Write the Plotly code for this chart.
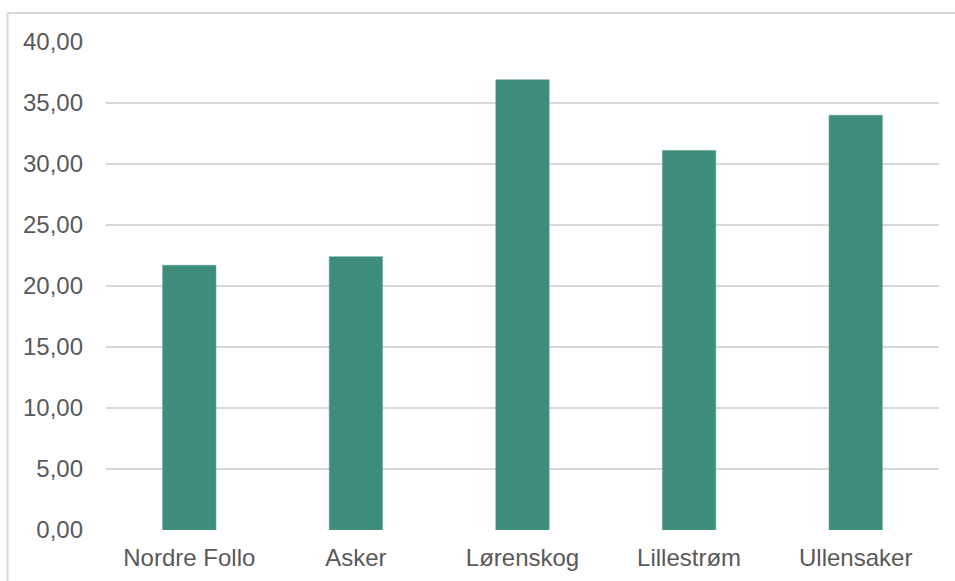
import plotly.graph_objects as go

# Municipalities and their values
kommuner = ["Nordre Follo", "Asker", "Lørenskog", "Lillestrøm", "Ullensaker"]
verdier = [21.7, 22.4, 36.9, 31.1, 34.0]
y_ticks = [0, 5, 10, 15, 20, 25, 30, 35, 40]

bar_color = "#3e8c7a"
grid_color = "#d9d9d9"
text_color = "#595959"

fig = go.Figure(
    go.Bar(
        x=kommuner,
        y=verdier,
        marker=dict(color=bar_color, line=dict(color="#5fa392", width=0.6)),
        hoverinfo="x+y",
    )
)

fig.update_layout(
    width=955,
    height=581,
    margin=dict(l=106, r=16, t=42, b=51),
    paper_bgcolor="white",
    plot_bgcolor="white",
    bargap=0.68,
    separators=", ",
    showlegend=False,
    font=dict(family="Liberation Sans, Arial, sans-serif", size=24, color=text_color),
    xaxis=dict(
        automargin=False,
        showgrid=False,
        showline=False,
        ticks="",
        ticklabelstandoff=11,
        tickfont=dict(size=24, color=text_color),
    ),
    yaxis=dict(
        automargin=False,
        range=[0, 40],
        tickvals=y_ticks,
        tickformat=".2f",
        showgrid=True,
        gridcolor=grid_color,
        gridwidth=1.5,
        zeroline=False,
        showline=False,
        ticks="",
        ticklabelstandoff=22,
        tickfont=dict(size=24, color=text_color),
    ),
    shapes=[
        # chart frame: top and left edges
        dict(type="line", xref="paper", yref="paper",
             x0=-0.1182, x1=1.1, y0=1.0594, y1=1.0594,
             line=dict(color=grid_color, width=2)),
        dict(type="line", xref="paper", yref="paper",
             x0=-0.1182, x1=-0.1182, y0=1.0594, y1=-0.3,
             line=dict(color=grid_color, width=2)),
    ],
)

fig.write_html("out.html")
